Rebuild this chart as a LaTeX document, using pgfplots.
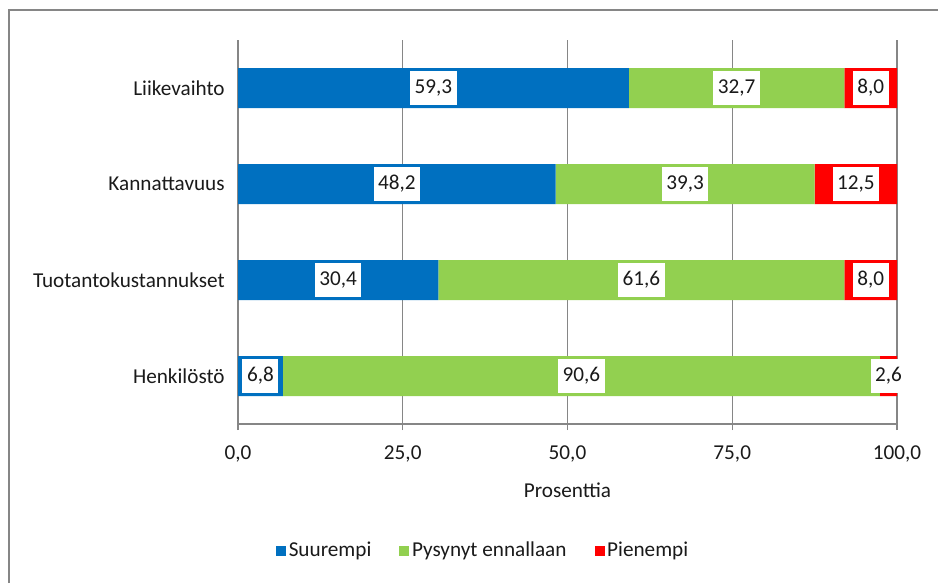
\documentclass[border=0pt]{standalone}
\usepackage{fontspec}
\setmainfont{Carlito}
\usepackage{pgfplots}
\usepackage{pgfplotstable}
\pgfplotsset{compat=1.18}
\definecolor{cblue}{HTML}{0070C0}
\definecolor{cgreen}{HTML}{92D050}
\definecolor{cred}{HTML}{FF0000}
\definecolor{axgray}{HTML}{868686}
\definecolor{txt}{HTML}{1A1A1A}
\pgfplotstableread{
v y
6.8 0
30.4 1
48.2 2
59.3 3
}\suurempi
\pgfplotstableread{
v y
90.6 0
61.6 1
39.3 2
32.7 3
}\pysynyt
\pgfplotstableread{
v y
2.6 0
8.0 1
12.5 2
8.0 3
}\pienempi
\begin{document}
\fontsize{15.9}{19}\selectfont
\begin{tikzpicture}
\useasboundingbox (0,0) rectangle (703.5pt,437.25pt);
\draw[axgray, line width=1.5pt] (7.1pt,0) -- (7.1pt,429.4pt) -- (703.5pt,429.4pt);
\begin{axis}[
  at={(178.5pt,119.25pt)}, anchor=south west,
  scale only axis, width=494.25pt, height=288pt,
  xbar stacked, bar width=30pt,
  xmin=0, xmax=100, ymin=-0.5, ymax=3.5,
  axis lines*=left,
  axis line style={draw=axgray, line width=0.9pt, -},
  xtick={0,25,50,75,100},
  ytick={0,1,2,3},
  yticklabels={Henkilöstö,Tuotantokustannukset,Kannattavuus,Liikevaihto},
  minor ytick={-0.5,0.5,1.5,2.5,3.5},
  tick align=outside,
  major tick length=4.5pt,
  ytick style={draw=none},
  minor tick style={draw=axgray, line width=0.9pt},
  minor tick length=6pt,
  xtick style={draw=axgray, line width=0.9pt},
  xmajorgrids, major grid style={axgray, line width=0.9pt},
  /pgf/number format/.cd, fixed, fixed zerofill, precision=1, use comma, assume math mode=true,
  /pgfplots/.cd,
  ticklabel style={text=txt, font=\fontsize{15.9}{19}\selectfont},
  xticklabel style={yshift=-6.5pt},
  xlabel={Prosenttia},
  xlabel style={at={(axis description cs:0.5,-0.172)}, anchor=center, text=txt, font=\fontsize{15.9}{19}\selectfont},
  visualization depends on={\thisrow{v} \as \rawx},
  nodes near coords={\pgfmathprintnumber[fixed,fixed zerofill,precision=1,use comma]{\rawx}},
  every node near coord/.style={
     fill=white, text=txt, inner xsep=3.4pt, inner ysep=0pt, minimum height=25.5pt,
     anchor=center,
     font=\fontsize{15.9}{19}\selectfont},
  legend style={at={(axis description cs:0.3725,-0.331)}, anchor=center, draw=none,
     legend columns=3, font=\fontsize{15.9}{19}\selectfont, text=txt,
     /tikz/every even column/.append style={column sep=19pt}},
  legend cell align=left,
  legend image code/.code={\fill[#1] (0pt,-3.75pt) rectangle (7.5pt,3.75pt);},
]
\addplot[fill=cblue, draw=none] table[x=v, y=y] {\suurempi};
\addplot[fill=cgreen, draw=none] table[x=v, y=y] {\pysynyt};
\addplot[fill=cred, draw=none] table[x=v, y=y] {\pienempi};
\legend{Suurempi,Pysynyt ennallaan,Pienempi}
\end{axis}
\end{tikzpicture}
\end{document}
